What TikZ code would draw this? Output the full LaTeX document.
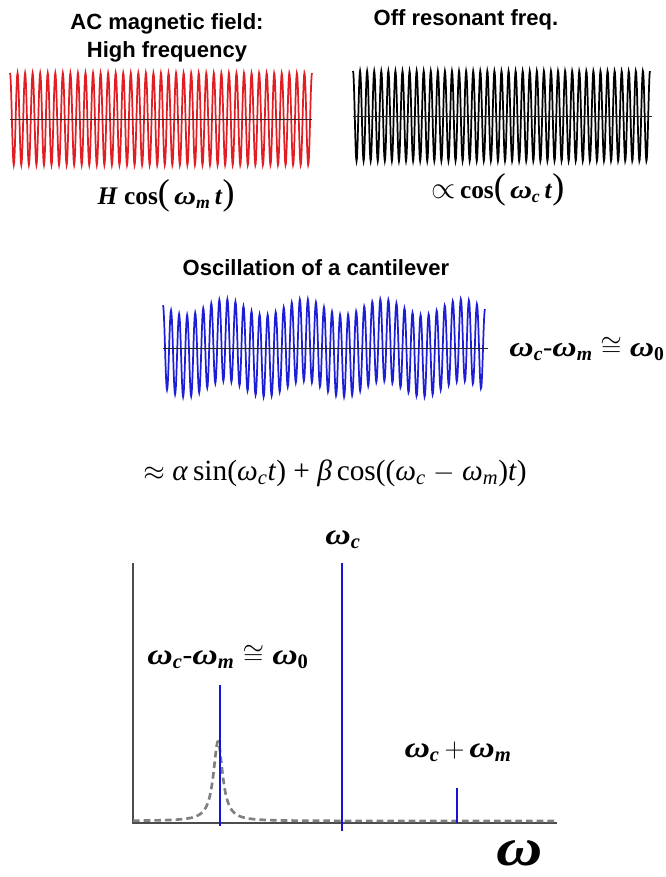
\documentclass[tikz,border=0pt]{standalone}
\usepackage{graphicx}
\usepackage{fontspec}
\setmainfont{Liberation Serif}
\setsansfont{Liberation Sans}
\definecolor{redwave}{RGB}{225,30,35}
\definecolor{bluewave}{RGB}{30,30,215}
\definecolor{specblue}{RGB}{20,20,210}
\newcommand{\om}{\scalebox{1.2}[1]{\textbf{\textit{ω}}}}
\newcommand{\bw}[1]{\om\textsubscript{\textbf{\textit{#1}}}}
\newcommand{\bwz}{\om\textsubscript{\textbf{0}}}
\newcommand{\bigpar}[1]{{\fontsize{27}{27}\selectfont #1}}

\begin{document}
\begin{tikzpicture}[x=0.75pt,y=-0.75pt,
    title/.style={font=\sffamily\bfseries\fontsize{16.5}{21}\selectfont, align=center, inner sep=0pt},
    eqn/.style={font=\fontsize{21}{24}\selectfont, inner sep=0pt},
    wave/.style={line width=1.3pt},
    zeroline/.style={line width=0.6pt, draw=black!85},
    axisline/.style={line width=0.9pt, draw=black!70},
    peak/.style={line width=1.8pt, draw=specblue}]
  \useasboundingbox (0,0) rectangle (666,877);

  % applied field and cantilever drive
  \node[title] (fieldtitle) at (167,38) {AC magnetic field:\\High frequency};
  \draw[wave, draw=redwave] plot[domain=0:40, samples=801] ({10+302*\x/40}, {119-46*cos(360*\x)});
  \draw[zeroline] (10,119) -- (312,119);
  \node[eqn, font=\fontsize{19}{22}\selectfont] (fieldeq) at (166,196) {\textbf{\textit{H}} \textbf{cos}\bigpar{(}\,\bw{m}\,\textbf{\textit{t}}\bigpar{)}};

  \node[title] (offtitle) at (466,20) {Off resonant freq.};
  \draw[wave, draw=black] plot[domain=0:42, samples=841] ({353+297*\x/42}, {116-45*cos(360*\x)});
  \draw[zeroline] (353,116) -- (652,116);
  \node[eqn, font=\fontsize{19}{22}\selectfont] (offeq) at (498,190) {\scalebox{1.35}{$\propto$}\,\textbf{cos}\bigpar{(}\,\bw{c}\,\textbf{\textit{t}}\bigpar{)}};

  % response
  \node[title] (cantititle) at (316,268) {Oscillation of a cantilever};
  \draw[wave, draw=bluewave] plot[domain=0:40, samples=801]
    ({163+322*\x/40}, {348-41*cos(360*\x)-8*cos(360*(0.1019*\x-0.7848))});
  \draw[zeroline] (163,348) -- (488,348);
  \node[eqn] (beatlabel) at (587,349) {\bw{c}-\bw{m}\;$\cong$\;\bwz};

  \node[eqn, font=\fontsize{22}{26}\selectfont] (sumeq) at (335,473)
    {$\approx$ \textit{α}\,sin(\textit{ω}\textsubscript{\textit{c}}\textit{t}) + \textit{β}\,cos((\textit{ω}\textsubscript{\textit{c}} $-$ \textit{ω}\textsubscript{\textit{m}})\textit{t})};

  % spectrum
  \coordinate (origin) at (133,823);
  \draw[axisline] (133,563) -- (origin) -- (557,823);
  \draw[line width=2pt, draw=black!50, dash pattern=on 5pt off 3pt]
    plot[domain=133:555, samples=421] (\x, {821-80/(1+((\x-218)/5.5)^2)});
  \draw[peak] (220,685) -- (220,826);
  \draw[peak] (342,563) -- (342,831);
  \draw[peak] (457,788) -- (457,823);
  \node[eqn, font=\fontsize{22}{24}\selectfont] (wclabel) at (343,540) {\bw{c}};
  \node[eqn, font=\fontsize{22}{24}\selectfont] (lowlabel) at (228,657) {\bw{c}-\bw{m}\;$\cong$\;\bwz};
  \node[eqn, font=\fontsize{22}{24}\selectfont] (highlabel) at (458,752) {\bw{c}\,$+$\,\bw{m}};
  \node[eqn, font=\fontsize{40}{40}\selectfont] (omegaaxis) at (520,853) {\om};
\end{tikzpicture}
\end{document}
